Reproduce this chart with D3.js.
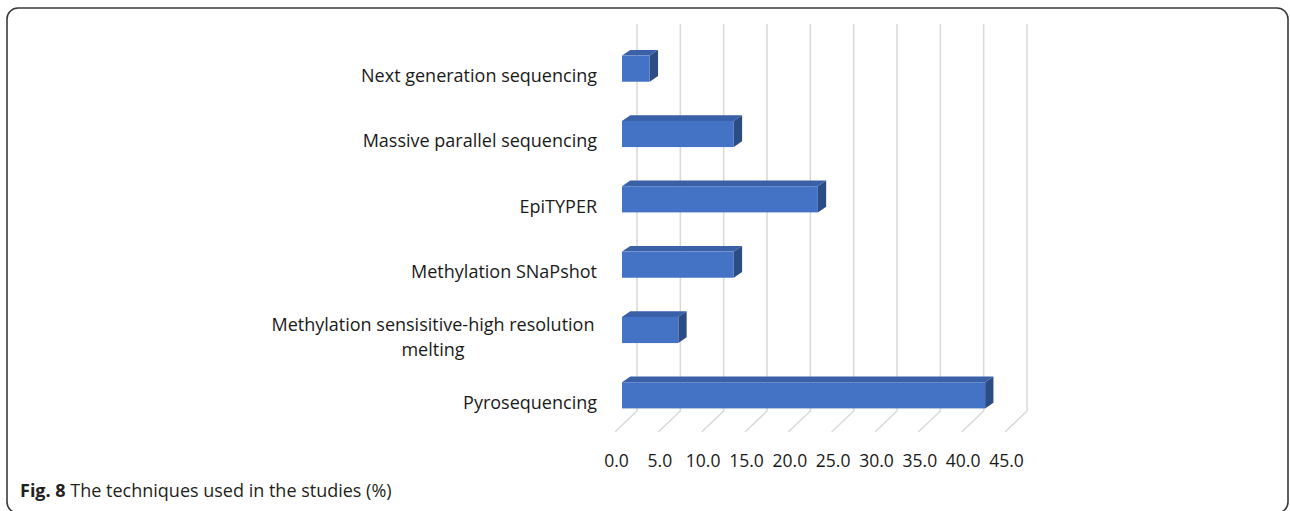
<!DOCTYPE html>
<html>
<head>
<meta charset="utf-8">
<script src="https://cdn.jsdelivr.net/npm/d3@7"></script>
<style>
  html, body { margin: 0; padding: 0; background: #fff; }
  svg { display: block; font-family: "Open Sans", "Noto Sans", sans-serif; }
</style>
</head>
<body>
<svg id="chart" width="1290" height="511"></svg>
<script>
const categories = [
  "Next generation sequencing",
  "Massive parallel sequencing",
  "EpiTYPER",
  "Methylation SNaPshot",
  "Methylation sensisitive-high resolution\nmelting",
  "Pyrosequencing"
];
const values = [3.2, 12.9, 22.6, 12.9, 6.5, 41.9];
const tickValues = [0, 5, 10, 15, 20, 25, 30, 35, 40, 45];
const captionBold = "Fig. 8";
const captionText = " The techniques used in the studies (%)";

const svg = d3.select("#chart");

// frame
svg.append("rect")
  .attr("x", 7).attr("y", 8)
  .attr("width", 1281).attr("height", 505)
  .attr("rx", 11).attr("ry", 11)
  .attr("fill", "none").attr("stroke", "#3a3a3a").attr("stroke-width", 1.6);

// geometry
const backX0 = 637, frontBarX0 = 622, floorX0 = 615;
const wallTop = 24, wallBottom = 411, floorFront = 432;
const depthDx = 8.3, depthDy = -5.7;

const x = d3.scaleLinear().domain([0, 45]).range([0, 390]);
const y = d3.scaleBand().domain(categories).range([36, 428])
  .paddingInner(0.6).paddingOuter(0.3);

// gridlines (wall + floor)
const grid = svg.append("g");
tickValues.forEach(v => {
  grid.append("path")
    .attr("d", `M${backX0 + x(v)},${wallTop} L${backX0 + x(v)},${wallBottom} L${floorX0 + x(v)},${floorFront}`)
    .attr("fill", "none").attr("stroke", "#d9d9d9").attr("stroke-width", 1.5);
});

// bars
const bars = svg.append("g");
categories.forEach((c, i) => {
  const y0 = y(c), h = y.bandwidth();
  const x1 = frontBarX0 + x(values[i]);
  const xl = frontBarX0;
  bars.append("polygon")
    .attr("points", [[xl, y0], [xl + depthDx, y0 + depthDy], [x1 + depthDx, y0 + depthDy], [x1, y0]].map(p => p.join(",")).join(" "))
    .attr("fill", "#3a60a8");
  bars.append("polygon")
    .attr("points", [[x1, y0], [x1 + depthDx, y0 + depthDy], [x1 + depthDx, y0 + h + depthDy], [x1, y0 + h]].map(p => p.join(",")).join(" "))
    .attr("fill", "#2c4c86");
  bars.append("rect")
    .attr("x", xl).attr("y", y0)
    .attr("width", x(values[i])).attr("height", h)
    .attr("fill", "#4472c4");
});

// category labels
const labels = svg.append("g")
  .attr("font-size", "18px").attr("fill", "#1a1a1a");
categories.forEach(c => {
  const lines = c.split("\n");
  const cy = y(c) + y.bandwidth() / 2 + 7;
  const lh = 25;
  const t = labels.append("text")
    .attr("text-anchor", lines.length > 1 ? "middle" : "end");
  lines.forEach((ln, j) => {
    t.append("tspan")
      .attr("x", lines.length > 1 ? 433 : 597)
      .attr("y", cy + (j - (lines.length - 1) / 2) * lh)
      .attr("dy", "0.35em")
      .text(ln);
  });
});

// x axis tick labels
const axis = d3.axisBottom(x).tickValues(tickValues)
  .tickFormat(d3.format(".1f")).tickSize(0).tickPadding(0);
const ax = svg.append("g")
  .attr("transform", `translate(${floorX0 + 1},455)`)
  .call(axis);
ax.select(".domain").remove();
ax.selectAll("text")
  .attr("font-family", "'Open Sans', 'Noto Sans', sans-serif")
  .attr("font-size", "17.5px").attr("fill", "#1a1a1a");

// caption
const cap = svg.append("text")
  .attr("x", 20).attr("y", 497)
  .attr("font-size", "18px").attr("fill", "#231f20");
cap.append("tspan").attr("font-weight", "bold").text(captionBold);
cap.append("tspan").text(captionText);
</script>
</body>
</html>
